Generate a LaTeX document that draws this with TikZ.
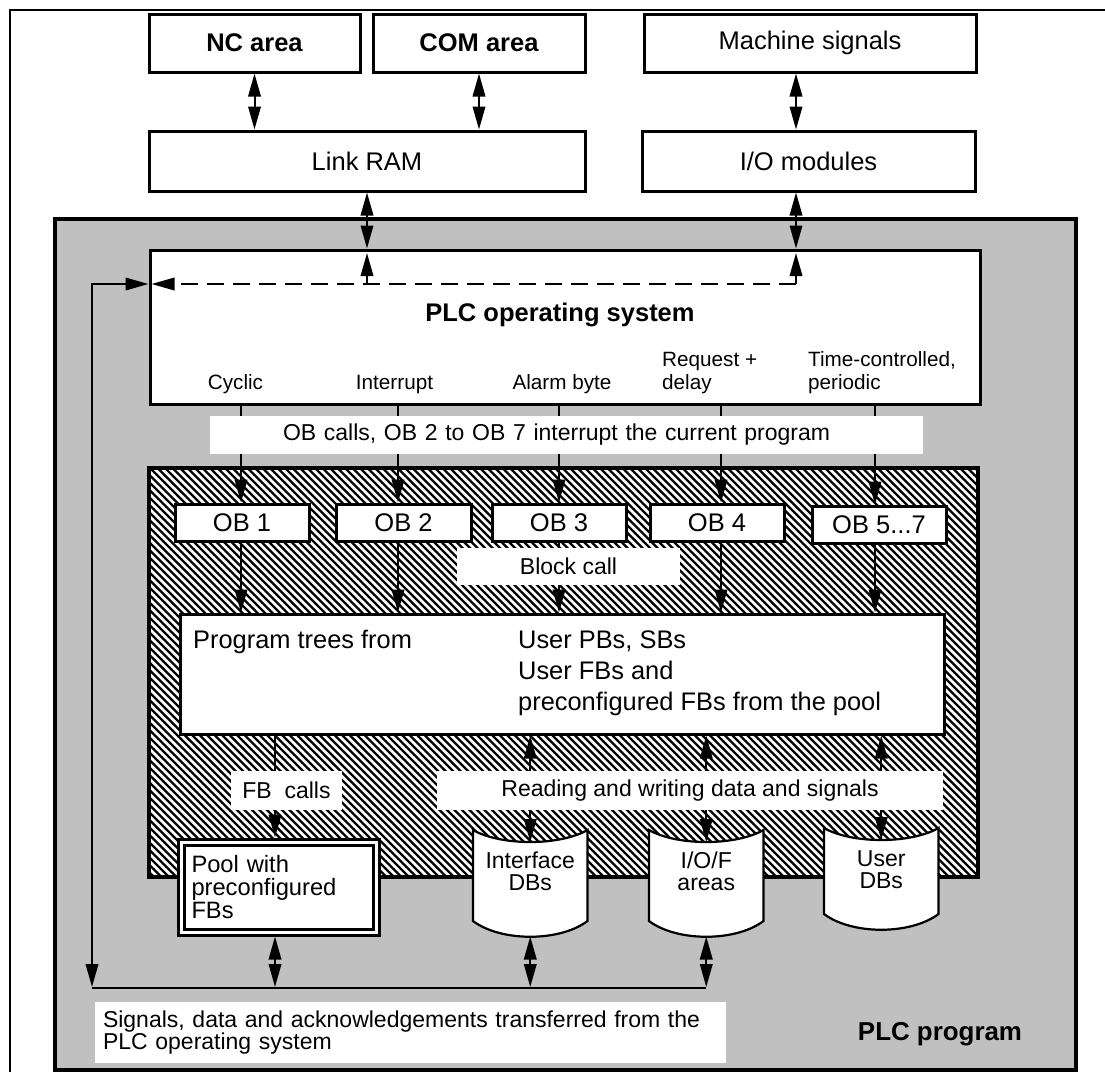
\documentclass[tikz,border=0pt]{standalone}
\usepackage{fontspec}
\setmainfont{Liberation Sans}
\usetikzlibrary{arrows.meta}
\definecolor{panel}{RGB}{192,192,192}

% drum-shaped data store: name, left, right, top, bottom, text
\newcommand\dbdrum[6]{%
  \path[draw, line width=2.2, fill=white]
    (#2,#4) .. controls ({#2+28},{#4+16}) and ({#3-28},{#4+16}) .. (#3,#4)
    -- (#3,#5) .. controls ({#3-28},{#5+21}) and ({#2+28},{#5+21}) .. (#2,#5) -- cycle;
  \coordinate (#1-top) at ({(#2+#3)/2},{#4+12});
  \coordinate (#1-bot) at ({(#2+#3)/2},{#5+15.5});
  \node[drumf, align=center, anchor=base] (#1) at ({(#2+#3)/2},{#4+60}) {#6};
}

\begin{document}
\begin{tikzpicture}[x=1pt, y=-1pt,
  >={Triangle[length=23pt,width=12.5pt]},
  bigf/.style={font=\fontsize{25.5}{30}\selectfont},
  bigb/.style={font=\fontsize{25.5}{30}\selectfont\bfseries},
  midf/.style={font=\fontsize{23}{23}\selectfont},
  smallf/.style={font=\fontsize{20.7}{22.5}\selectfont},
  progf/.style={font=\fontsize{25.4}{31}\selectfont},
  poolf/.style={font=\fontsize{23.7}{23}\selectfont},
  drumf/.style={font=\fontsize{23}{22}\selectfont},
  box/.style={draw, line width=3, fill=white, inner sep=0},
  lbl/.style={fill=white, inner sep=0},
  conn/.style={line width=2},
]
\useasboundingbox (0,0) rectangle (1105,1072);
\draw[line width=1.2] (10,1072) -- (10,10) -- (1105,10);

% external areas
\node[box, bigb, minimum width=211, minimum height=58] (nc) at (254.5,43) {NC area};
\node[box, bigb, minimum width=212, minimum height=58] (com) at (479,43) {COM area};
\node[box, bigf, minimum width=332, minimum height=58] (mach) at (810,43) {Machine signals};
\node[box, bigf, minimum width=436, minimum height=60] (link) at (367,161) {Link RAM};
\node[box, bigf, minimum width=333, minimum height=60] (io) at (808.5,161) {I/O modules};

% PLC program panel
\node[draw, line width=3.5, fill=panel, minimum width=1021, minimum height=851, inner sep=0] (plc) at (565.5,644.5) {};

% operating system
\node[box, minimum width=830, minimum height=154] (os) at (565,327) {};
\node[bigb, anchor=base] (ostitle) at (560,321) {PLC operating system};
\node[smallf, anchor=base] (lcyc) at (235.5,389) {Cyclic};
\node[smallf, anchor=base] (lint) at (394.5,389) {Interrupt};
\node[smallf, anchor=base] (lalarm) at (562,389) {Alarm byte};
\node[smallf, anchor=base west, align=left, inner sep=0] (lreq) at (662,389) {Request +\\delay};
\node[smallf, anchor=base west, align=left, inner sep=0] (ltime) at (808,389) {Time-controlled,\\periodic};

% hatched user program area
\node[fill=white, minimum width=829, minimum height=409, inner sep=0, outer sep=0] (hb) at (563.5,672.5) {};
\begin{scope}
  \clip (hb.north west) rectangle (hb.south east);
  \foreach \x in {-270,-262.5,...,985}
    \draw[line width=2.3] (\x,468) -- ++(409,409);
\end{scope}
\draw[line width=4] (hb.north west) rectangle (hb.south east);

% organisation blocks
\node[box, bigf, minimum width=134, minimum height=37] (ob1) at (242,522.5) {OB 1};
\node[box, bigf, minimum width=135, minimum height=37] (ob2) at (403.5,522.5) {OB 2};
\node[box, bigf, minimum width=134, minimum height=37] (ob3) at (559,522.5) {OB 3};
\node[box, bigf, minimum width=134, minimum height=37] (ob4) at (717,522.5) {OB 4};
\node[box, bigf, minimum width=134, minimum height=37] (ob5) at (879,524.5) {OB 5...7};

% program trees
\node[box, minimum width=764, minimum height=120] (prog) at (562,674) {};
\node[progf, anchor=base west, inner sep=0] (ptrees) at (193,648) {Program trees from};
\node[progf, anchor=base west, align=left, inner sep=0] (pfrom) at (518,710)
  {User PBs, SBs\\User FBs and\\preconfigured FBs from the pool};

% FB pool and data stores
\node[draw, line width=3, double=white, double distance=3, fill=white,
      minimum width=195, minimum height=90, inner sep=0,
      text width=175, align=left, poolf] (pool) at (279,887)
  {Pool with\\preconfigured\\FBs};
\dbdrum{ifc}{473}{587.5}{830}{921}{Interface\\DBs}
\dbdrum{iof}{649}{763.5}{830}{921}{I/O/F\\areas}
\dbdrum{udb}{824}{938.5}{828}{914}{User\\DBs}

% connector columns
\coordinate (k1) at (241,0);
\coordinate (k2) at (398,0);
\coordinate (k3) at (559,0);
\coordinate (k4) at (721,0);
\coordinate (k5) at (875,0);
\coordinate (kf) at (275,0);
\coordinate (iox) at (796,0);
\coordinate (dl) at (367,284);
\coordinate (dr) at (796,284);
\coordinate (busl) at (92,988);
\coordinate (busr) at (busl -| iof-bot);

% links to the outside
\draw[conn,<->] (nc.south) -- (nc.south |- link.north);
\draw[conn,<->] (com.south) -- (com.south |- link.north);
\draw[conn,<->] (mach.south -| iox) -- (io.north -| iox);
\draw[conn,<->] (link.south) -- (link.south |- os.north);
\draw[conn,<->] (io.south -| iox) -- (os.north -| iox);

% internal transfer inside the operating system
\draw[conn, dash pattern=on 17pt off 9pt, ->, shorten >=3pt] (dr) -- (dr -| os.west);
\draw[conn,->,shorten >=4.5pt] (dl) -- (dl |- os.north);
\draw[conn,->,shorten >=4.5pt] (dr) -- (dr |- os.north);
\draw[conn,<->,shorten >=1pt] (dr -| os.west) -| (busl);
\draw[line width=2.5] (busl) -- (busr);

% OB calls and block calls
\foreach \i in {1,...,5} {
  \draw[conn,->] (os.south -| k\i) -- (ob\i.north -| k\i);
  \draw[conn,->] (ob\i.south -| k\i) -- (prog.north -| k\i);
}
\draw[conn,->,shorten >=3pt] (prog.south -| kf) -- (pool.north -| kf);
\foreach \d in {ifc,iof,udb}
  \draw[conn,<->] (\d-top) -- (prog.south -| \d-top);

% transfers to the bus
\draw[conn,<->,shorten <=3pt,shorten >=1pt] (pool.south -| kf) -- (busl -| kf);
\draw[conn,<->,shorten >=1pt] (ifc-bot) -- (busl -| ifc-bot);
\draw[conn,<->,shorten >=1pt] (iof-bot) -- (busl -| iof-bot);

% labels
\node[lbl, midf, minimum height=38, text width=567, align=left, inner xsep=73] (obcalls) at (566.5,435)
  {OB calls, OB 2 to OB 7 interrupt the current program};
\node[lbl, midf, minimum width=223, minimum height=37] (blk) at (568.5,566.5) {Block call};
\node[lbl, midf, minimum width=111, minimum height=39] (fbc) at (286.5,790.5) {FB\ \ calls};
\node[lbl, midf, minimum width=506, minimum height=39] (rd) at (690,790.5) {Reading and writing data and signals};
\node[lbl, font=\fontsize{23}{21.5}\selectfont, minimum height=61, text width=615, align=left, inner xsep=8] (sig) at (410.5,1032.5)
  {Signals, data and acknowledgements transferred from the\\PLC operating system};
\node[font=\fontsize{25.9}{30}\selectfont\bfseries, anchor=base] (plcp) at (940,1040) {PLC program};
\end{tikzpicture}
\end{document}
